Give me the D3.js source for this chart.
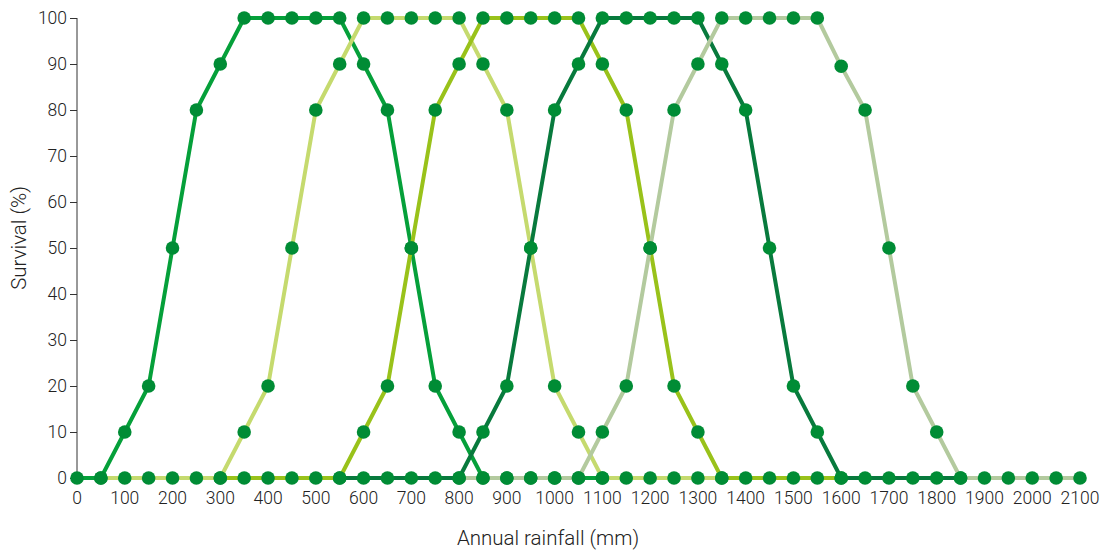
<!DOCTYPE html>
<html>
<head>
<meta charset="utf-8">
<script src="https://cdn.jsdelivr.net/npm/d3@7"></script>
<style>
  body { margin: 0; background: #fff; }
  text { font-family: "Helvetica Neue", Roboto, "Liberation Sans", sans-serif; font-weight: 300; fill: #222; }
</style>
</head>
<body>
<div class="container"></div>
<script>
// rainfall (mm) where each curve starts, 50 mm steps
const seriesStarts = [0, 50, 300, 550, 800];
const seriesColors = ["#05a03a", "#c5da6e", "#99c21a", "#087a3d", "#b3ca9e"];
const survival1 = [0, 0, 10, 20, 50, 80, 90, 100, 100, 100, 100, 100, 90, 80, 50, 20, 10, 0, 0, 0, 0, 0, 0];
const survival2 = [0, 0, 0, 0, 0, 0, 10, 20, 50, 80, 90, 100, 100, 100, 100, 100, 90, 80, 50, 20, 10, 0, 0, 0, 0, 0, 0];
const survival3 = [0, 0, 0, 0, 0, 0, 10, 20, 50, 80, 90, 100, 100, 100, 100, 100, 90, 80, 50, 20, 10, 0, 0, 0, 0, 0, 0];
const survival4 = [0, 0, 0, 0, 0, 0, 10, 20, 50, 80, 90, 100, 100, 100, 100, 100, 90, 80, 50, 20, 10, 0, 0, 0, 0, 0, 0];
const survival5 = [0, 0, 0, 0, 0, 0, 10, 20, 50, 80, 90, 100, 100, 100, 100, 100, 89.5, 80, 50, 20, 10, 0, 0, 0, 0, 0, 0];
const xTicks = d3.range(0, 2101, 100);
const yTicks = d3.range(0, 101, 10);

const allSeries = [survival1, survival2, survival3, survival4, survival5].map(function(vals, i) {
  return vals.map(function(v, j) { return { rain: seriesStarts[i] + j * 50, surv: v }; });
});

const width = 1108, height = 552;
const svg = d3.select(".container").append("svg")
  .attr("width", width).attr("height", height);

const x = d3.scaleLinear().domain([0, 2100]).range([77, 1080]);
const y = d3.scaleLinear().domain([0, 100]).range([478, 18]);

// y axis
const yAxis = svg.append("g")
  .attr("transform", "translate(77,0)")
  .call(d3.axisLeft(y).tickValues(yTicks).tickSize(7).tickPadding(3));
yAxis.select(".domain").attr("stroke", "#333").attr("d", "M0," + y(0) + "V" + y(100));
yAxis.selectAll(".tick line").attr("stroke", "#333");
yAxis.selectAll("text").attr("font-size", "17.5px").attr("fill", "#222")
  .style("font-family", "'Helvetica Neue', Roboto, 'Liberation Sans', sans-serif").style("font-weight", 300);

// x tick labels only
svg.append("g").selectAll("text")
  .data(xTicks)
  .enter().append("text")
  .attr("x", function(d) { return x(d); })
  .attr("y", 504)
  .attr("text-anchor", "middle")
  .attr("font-size", "17.5px")
  .text(function(d) { return d; });

const line = d3.line()
  .x(function(d) { return x(d.rain); })
  .y(function(d) { return y(d.surv); });

svg.append("g").selectAll("path")
  .data(allSeries)
  .enter().append("path")
  .attr("d", line)
  .attr("fill", "none")
  .attr("stroke", function(d, i) { return seriesColors[i]; })
  .attr("stroke-width", 4)
  .attr("stroke-linejoin", "round");

svg.append("g").selectAll("g")
  .data(allSeries)
  .enter().append("g")
  .selectAll("circle")
  .data(function(d) { return d; })
  .enter().append("circle")
  .attr("cx", function(d) { return x(d.rain); })
  .attr("cy", function(d) { return y(d.surv); })
  .attr("r", 6.8)
  .attr("fill", "#008c35");

svg.append("text")
  .attr("transform", "translate(26,238) rotate(-90)")
  .attr("text-anchor", "middle")
  .attr("font-size", "20.5px")
  .text("Survival (%)");

svg.append("text")
  .attr("x", 548)
  .attr("y", 545)
  .attr("text-anchor", "middle")
  .attr("font-size", "20.5px")
  .text("Annual rainfall (mm)");
</script>
</body>
</html>
